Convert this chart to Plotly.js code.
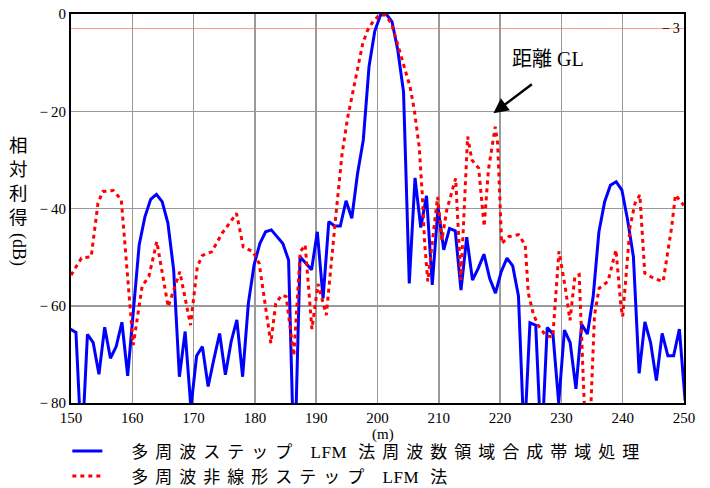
<!DOCTYPE html>
<html>
<head>
<meta charset="utf-8">
<script src="https://cdn.plot.ly/plotly-3.0.1.min.js"></script>
<style>
html,body{margin:0;padding:0;background:#fff;}
#chart{width:710px;height:488px;}
.legendtext{letter-spacing:7px;}
</style>
</head>
<body>
<div id="chart"></div>
<script>
// ---- data ----
const seriesNames = [
  "\u2003多周波ステップ <span style='letter-spacing:0.5px'>LFM</span> 法周波数領域合成帯域処理",
  "\u2003多周波非線形ステップ <span style='letter-spacing:0.5px'>LFM</span> 法"
];

// blue series: uniformly sampled range bins
const blueStart = 149.87;   // m
const blueStep = 0.9375;    // m per sample
const blueGain = [
  -64.8, -65.5, -90, -65.9, -67.6, -74.1, -64.4, -70.8, -68.4, -63.4,
  -74.4, -61, -47.5, -41.7, -38.1, -37.1, -38.6, -43, -52.6, -74.6,
  -65.3, -81, -70.3, -68.4, -76.6, -71, -65.7, -74.2, -67.4, -62.9,
  -74.6, -59.5, -51.6, -47.2, -44.8, -44.4, -45.8, -47.2, -50.6, -95,
  -49.9, -51.3, -52.6, -44.8, -58.5, -42.7, -43.6, -43.6, -38.4, -42,
  -32.8, -25.9, -10.8, -3.5, -0.2, 0, -1.6, -7.4, -16, -55.4,
  -33.7, -43.9, -37.4, -55.7, -39.8, -48.5, -44.1, -44.6, -56.8, -45.9,
  -54.7, -52.3, -49.4, -54.4, -57.4, -53, -50.2, -51.8, -58, -88,
  -63.5, -64, -90, -64.5, -65.8, -80, -65, -67.6, -77.1, -63.8,
  -65.8, -58.1, -44.8, -38.6, -35.2, -34.5, -36.2, -42.4, -49.9, -73.9,
  -63.3, -67.6, -75.4, -65.7, -70.3, -70.3, -64.8, -79.5
];

// red series: vertices
const redRange = [
  150.0, 151.7, 153.3, 154.4, 155.2, 156.9, 158.2, 160.15, 161.6, 162.7,
  164.0, 165.85, 167.75, 169.5, 170.6, 171.4, 172.95, 174.7, 177.0, 178.1,
  179.7, 180.7, 182.6, 183.4, 184.4, 185.1, 186.35, 187.4, 188.2, 189.3,
  190.3, 191.65, 193.2, 194.2, 195.1, 196.1, 196.8, 197.6, 198.4, 199.3,
  200.3, 201.3, 202.3, 203.2, 204.2, 205.3, 206.0, 206.8, 207.3, 207.7,
  208.2, 209.8, 210.5, 211.3, 212.75, 213.6, 214.7, 215.4, 216.5, 217.4,
  218.1, 219.2, 219.6, 220.25, 221.4, 223.0, 224.1, 224.6, 225.4, 226.2,
  227.5, 228.6, 229.6, 230.6, 231.4, 232.2, 232.9, 233.85, 234.7, 235.4,
  236.15, 237.6, 238.9, 239.7, 240.0, 241.2, 242.0, 242.8, 243.6, 245.1,
  246.6, 248.0, 248.6, 250.0
];
const redGain = [
  -53.7, -50.2, -49.9, -38.9, -36.5, -36.3, -38.2, -68.1, -56, -54,
  -46.8, -60.2, -53, -64, -52, -49.7, -48.9, -45, -41, -47.9,
  -48.9, -51.3, -67.7, -59.5, -57.8, -58.1, -70.3, -48.9, -47.5, -64.8,
  -55.5, -61.9, -41.5, -29, -21.5, -15, -10.5, -6, -3.3, -1.5,
  -0.2, -0.2, -2, -5.8, -10.1, -14.9, -19.7, -27.3, -37, -47.2,
  -55, -37.6, -46.5, -40.3, -33.8, -54.7, -25.2, -30, -31.7, -43.7,
  -32, -23.2, -26.6, -47.2, -45.8, -45.4, -47.5, -57.4, -61.6, -64,
  -66.2, -66.4, -48.8, -56, -63, -54, -53.6, -84, -84, -62,
  -56.4, -55, -48.5, -60, -62.2, -43.7, -39, -37.2, -53.3, -54.4,
  -55, -43.7, -37.2, -39.4
];

const xTicks = [150, 160, 170, 180, 190, 200, 210, 220, 230, 240, 250];
const yTicks = [0, -20, -40, -60, -80];
const yTickLabels = ["0", "\u2212\u200920", "\u2212\u200940", "\u2212\u200960", "\u2212\u200980"];
const halfPowerLevel = -3;
const halfPowerLabel = "\u2212\u20093";
const gratingLobeLabel = "距離 GL";
const gratingLobeRange = 218.9;
const gratingLobeGain = -20.4;

const serif = "Liberation Serif, Noto Sans CJK JP, serif";

const traces = [
  {
    type: "scatter", mode: "lines", name: seriesNames[0],
    x0: blueStart, dx: blueStep, y: blueGain,
    line: {color: "#0000ff", width: 3}
  },
  {
    type: "scatter", mode: "lines", name: seriesNames[1],
    x: redRange, y: redGain,
    line: {color: "#ff0000", width: 3, dash: "4px,4px"}
  }
];

const layout = {
  width: 710, height: 488,
  margin: {l: 71, r: 26, t: 14, b: 85, autoexpand: false},
  paper_bgcolor: "#ffffff", plot_bgcolor: "#ffffff",
  font: {family: serif, size: 15, color: "#000"},
  showlegend: true,
  legend: {
    x: -0.006, xanchor: "left", y: -0.078, yanchor: "top",
    bgcolor: "rgba(0,0,0,0)", borderwidth: 0,
    font: {family: serif, size: 17, color: "#000"},
    itemwidth: 30, tracegroupgap: 0
  },
  xaxis: {
    range: [150, 250], tickvals: xTicks, ticktext: xTicks.map(String),
    showgrid: true, gridcolor: "#9a9a9a", gridwidth: 1.5,
    showline: true, linecolor: "#000", linewidth: 2, mirror: true,
    ticks: "", zeroline: false, tickfont: {family: serif, size: 15},
    fixedrange: true
  },
  yaxis: {
    range: [-80, 0], tickvals: yTicks, ticktext: yTickLabels,
    showgrid: true, gridcolor: "#9a9a9a", gridwidth: 1.5,
    showline: true, linecolor: "#000", linewidth: 2, mirror: true,
    ticks: "", zeroline: false, tickfont: {family: serif, size: 15},
    fixedrange: true
  },
  shapes: [
    {type: "line", xref: "paper", x0: 0, x1: 1, yref: "y", y0: halfPowerLevel, y1: halfPowerLevel,
     line: {color: "#ff9090", width: 1}, layer: "below"}
  ],
  annotations: [
    {xref: "x", yref: "y", x: 249.6, y: halfPowerLevel, xanchor: "right", yanchor: "middle",
     text: halfPowerLabel, showarrow: false, font: {family: serif, size: 14, color: "#000"}},
    {xref: "x", yref: "y", x: gratingLobeRange, y: gratingLobeGain, text: "",
     showarrow: true, arrowhead: 2, arrowsize: 1.2, arrowwidth: 2.5, arrowcolor: "#000",
     ax: 40, ay: -30, standoff: 0},
    {xref: "paper", yref: "paper", x: (548 - 71) / 613, y: (403 - 59) / 389,
     xanchor: "center", yanchor: "middle", text: gratingLobeLabel, showarrow: false,
     font: {family: serif, size: 20, color: "#000"}},
    {xref: "paper", yref: "paper", x: (19 - 71) / 613, y: (403 - 180) / 389,
     xanchor: "center", yanchor: "middle", text: "相<br>対<br>利<br>得", showarrow: false,
     font: {family: "Noto Sans CJK JP", size: 18.5, color: "#000"}},
    {xref: "paper", yref: "paper", x: (19 - 71) / 613, y: (403 - 250) / 389,
     xanchor: "center", yanchor: "middle", text: "(dB)", textangle: 90, showarrow: false,
     font: {family: serif, size: 18, color: "#000"}},
    {xref: "paper", yref: "paper", x: (383 - 71) / 613, y: (403 - 434) / 389,
     xanchor: "center", yanchor: "middle", text: "(m)", showarrow: false,
     font: {family: serif, size: 15, color: "#000"}}
  ]
};

Plotly.newPlot("chart", traces, layout, {displayModeBar: false, staticPlot: true});
</script>
</body>
</html>
